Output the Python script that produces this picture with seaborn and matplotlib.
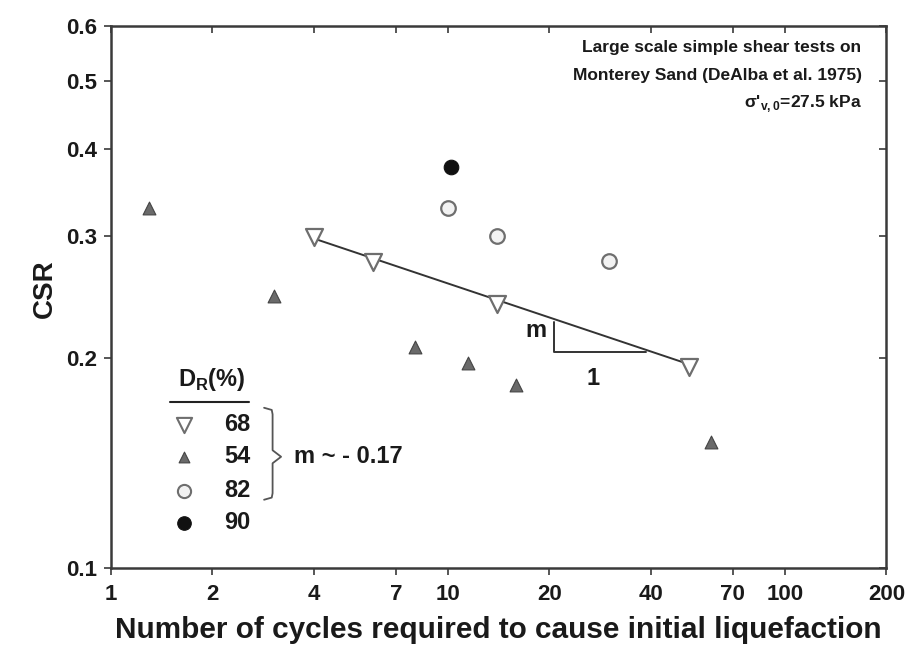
import matplotlib
matplotlib.use("Agg")
import matplotlib.pyplot as plt
import seaborn as sns

# ---- data ----
dr68_n = [4.0, 6.0, 14.0, 52.0]
dr68_csr = [0.299, 0.275, 0.239, 0.194]

dr54_n = [1.30, 3.04, 8.0, 11.5, 15.9, 60.4]
dr54_csr = [0.329, 0.2455, 0.2075, 0.197, 0.183, 0.1516]

dr82_n = [10.0, 14.0, 30.0]
dr82_csr = [0.329, 0.300, 0.276]

dr90_n = [10.2]
dr90_csr = [0.376]

fit_n = [3.96, 52.7]
fit_csr = [0.2975, 0.1955]

slope_tri_n = [20.6, 20.6, 38.8]
slope_tri_csr = [0.2255, 0.204, 0.204]

x_ticks = [1, 2, 4, 7, 10, 20, 40, 70, 100, 200]
y_ticks = [0.1, 0.2, 0.3, 0.4, 0.5, 0.6]

legend_labels = ["68", "54", "82", "90"]

sns.set_theme(style="white")
plt.rcParams["font.family"] = ["Liberation Sans", "DejaVu Sans"]
plt.rcParams["mathtext.fontset"] = "custom"
plt.rcParams["mathtext.rm"] = "Liberation Sans"
plt.rcParams["mathtext.bf"] = "Liberation Sans:bold"

fig = plt.figure(figsize=(9.1, 6.64), dpi=100)
ax = fig.add_axes([0.122, 0.145, 0.852, 0.816])

edge = "#6e6e6e"
tri_fill = "#6a6a6a"
txt = "#1a1a1a"

sns.lineplot(x=fit_n, y=fit_csr, ax=ax, color="#333333", lw=1.4, estimator=None, sort=False)
sns.lineplot(x=slope_tri_n, y=slope_tri_csr, ax=ax, color="#333333", lw=1.4, estimator=None, sort=False)

sns.scatterplot(x=dr68_n, y=dr68_csr, ax=ax, marker="v", s=150, facecolor="white",
                edgecolor=edge, linewidth=1.6, zorder=3)
sns.scatterplot(x=dr54_n, y=dr54_csr, ax=ax, marker="^", s=85, color=tri_fill,
                edgecolor="#444444", linewidth=0.8, zorder=3)
sns.scatterplot(x=dr82_n, y=dr82_csr, ax=ax, marker="o", s=110, facecolor="#f2f2f2",
                edgecolor=edge, linewidth=1.6, zorder=3)
sns.scatterplot(x=dr90_n, y=dr90_csr, ax=ax, marker="o", s=110, color="#111111",
                edgecolor="#111111", linewidth=0.8, zorder=3)

ax.set_xscale("log")
ax.set_yscale("log")
ax.set_xlim(1, 200)
ax.set_ylim(0.1, 0.6)
ax.set_xticks(x_ticks)
ax.set_xticklabels([str(t) for t in x_ticks])
ax.set_yticks(y_ticks)
ax.set_yticklabels([f"{t:.1f}" for t in y_ticks])
ax.minorticks_off()

for sp in ax.spines.values():
    sp.set_color("#3a3a3a")
    sp.set_linewidth(1.8)

ax.tick_params(axis="both", which="major", direction="out", length=5, width=1.2,
               color="#3a3a3a", labelsize=16, labelcolor=txt,
               bottom=True, left=True)
ax.tick_params(axis="x", pad=7)
ax.tick_params(axis="y", pad=5)
for lab in ax.get_xticklabels() + ax.get_yticklabels():
    lab.set_fontweight("bold")

# mirrored inward ticks on top/right
ax2 = ax.secondary_xaxis("top")
ax2.set_xticks(x_ticks)
ax2.tick_params(direction="in", length=5, width=1.2, color="#3a3a3a", labeltop=False)
ax2.spines["top"].set_visible(False)
ax3 = ax.secondary_yaxis("right")
ax3.set_yticks(y_ticks)
ax3.tick_params(direction="in", length=5, width=1.2, color="#3a3a3a", labelright=False)
ax3.spines["right"].set_visible(False)
ax2.minorticks_off()
ax3.minorticks_off()

ax.set_xlabel("Number of cycles required to cause initial liquefaction", fontsize=21.4,
              fontweight="bold", labelpad=8, color=txt)
ax.set_ylabel("CSR", fontsize=20, fontweight="bold", color=txt)
ax.yaxis.set_label_coords(-0.068, 0.515)

# top-right annotation
tx = 0.968
ax.text(tx, 0.960, "Large scale simple shear tests on", transform=ax.transAxes,
        ha="right", va="center", fontsize=12.5, fontweight="bold", color=txt)
ax.text(tx, 0.908, "Monterey Sand (DeAlba et al. 1975)", transform=ax.transAxes,
        ha="right", va="center", fontsize=12.5, fontweight="bold", color=txt)
ax.text(tx, 0.856, r"σ'$_{\mathbf{v,0}}$=27.5 kPa", transform=ax.transAxes,
        ha="right", va="center", fontsize=12.5, fontweight="bold", color=txt)

# slope triangle labels
ax.text(18.2, 0.219, "m", ha="center", va="center", fontsize=17, fontweight="bold", color=txt)
ax.text(27.0, 0.187, "1", ha="center", va="center", fontsize=17, fontweight="bold", color=txt)

# manual legend (axes-fraction coordinates)
def axf(px, py):
    return ((px - 111) / 775.0, (568 - py) / 542.0)

x0, y0 = axf(212, 380)
ax.text(x0, y0, r"D$_{\mathbf{R}}$(%)", transform=ax.transAxes, ha="center", va="center",
        fontsize=17, fontweight="bold", color=txt)
ax.plot([axf(170, 0)[0], axf(249, 0)[0]], [axf(0, 402)[1]] * 2, transform=ax.transAxes,
        color="#222222", lw=1.5, clip_on=False)

leg_y = [425, 457, 491, 523]
leg_styles = [
    dict(marker="v", s=120, facecolor="white", edgecolor=edge, linewidth=1.5),
    dict(marker="^", s=60, color=tri_fill, edgecolor="#444444", linewidth=0.8),
    dict(marker="o", s=90, facecolor="#f2f2f2", edgecolor=edge, linewidth=1.5),
    dict(marker="o", s=95, color="#111111", edgecolor="#111111", linewidth=0.8),
]
for py, lab, st in zip(leg_y, legend_labels, leg_styles):
    mx, my = axf(184, py)
    ax.scatter([mx], [my], transform=ax.transAxes, zorder=4, clip_on=False, **st)
    lx, ly = axf(224, py)
    ax.text(lx, ly, lab, transform=ax.transAxes, ha="left", va="center",
            fontsize=17, fontweight="bold", color=txt)

# brace
bx, _ = axf(264, 0)
btip, _ = axf(281, 0)
_, byt = axf(0, 408)
_, bym = axf(0, 457)
_, byb = axf(0, 500)
dx = btip - bx
ax.plot([bx, bx + dx * 0.45, bx + dx * 0.5, bx + dx * 0.5, btip,
         bx + dx * 0.5, bx + dx * 0.5, bx + dx * 0.45, bx],
        [byt, byt - 0.004, byt - 0.012, bym + 0.012, bym,
         bym - 0.012, byb + 0.012, byb + 0.004, byb],
        transform=ax.transAxes, color="#555555", lw=1.3)

mx, my = axf(294, 457)
ax.text(mx, my, "m ~ - 0.17", transform=ax.transAxes, ha="left", va="center",
        fontsize=17, fontweight="bold", color=txt)

fig.savefig("out.png", dpi=100)
